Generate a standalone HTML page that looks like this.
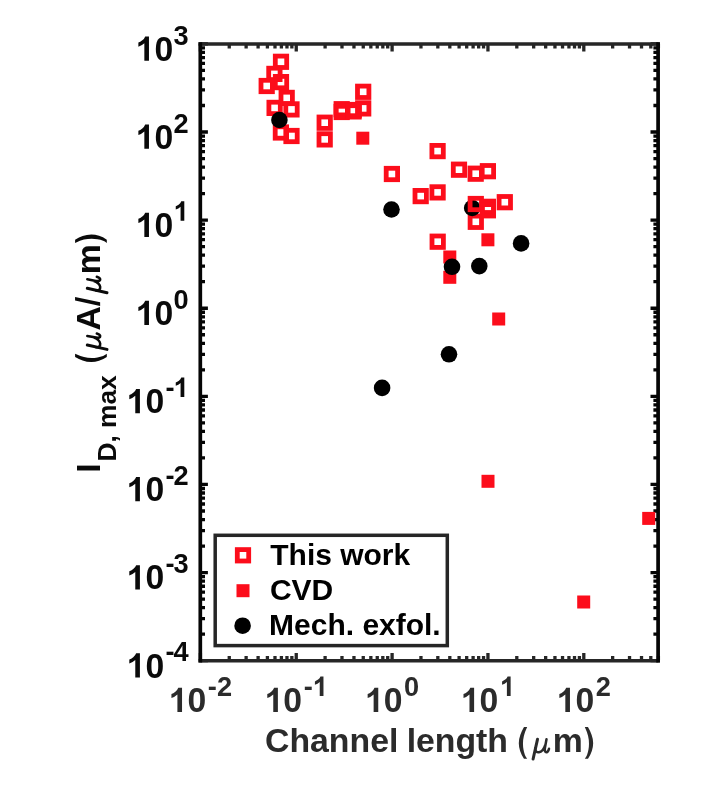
<!DOCTYPE html>
<html><head><meta charset="utf-8"><title>chart</title>
<style>html,body{margin:0;padding:0;background:#fff;}body{width:724px;height:786px;overflow:hidden;font-family:"Liberation Sans",sans-serif;}svg{display:block;filter:blur(0.65px);}</style>
</head><body>
<svg width="724" height="786" viewBox="0 0 724 786">
<rect x="0" y="0" width="724" height="786" fill="#ffffff"/>
<g stroke-width="3.3" fill="none"><path d="M200.40 660.70V653.10M200.40 43.90V51.50" stroke="#262626"/><path d="M229.25 660.70V656.00M229.25 43.90V48.60" stroke="#262626"/><path d="M246.13 660.70V656.00M246.13 43.90V48.60" stroke="#262626"/><path d="M258.11 660.70V656.00M258.11 43.90V48.60" stroke="#262626"/><path d="M267.40 660.70V656.00M267.40 43.90V48.60" stroke="#262626"/><path d="M274.99 660.70V656.00M274.99 43.90V48.60" stroke="#262626"/><path d="M281.40 660.70V656.00M281.40 43.90V48.60" stroke="#262626"/><path d="M286.96 660.70V656.00M286.96 43.90V48.60" stroke="#262626"/><path d="M291.86 660.70V656.00M291.86 43.90V48.60" stroke="#262626"/><path d="M296.25 660.70V653.10M296.25 43.90V51.50" stroke="#262626"/><path d="M325.10 660.70V656.00M325.10 43.90V48.60" stroke="#262626"/><path d="M341.98 660.70V656.00M341.98 43.90V48.60" stroke="#262626"/><path d="M353.96 660.70V656.00M353.96 43.90V48.60" stroke="#262626"/><path d="M363.25 660.70V656.00M363.25 43.90V48.60" stroke="#262626"/><path d="M370.84 660.70V656.00M370.84 43.90V48.60" stroke="#262626"/><path d="M377.25 660.70V656.00M377.25 43.90V48.60" stroke="#262626"/><path d="M382.81 660.70V656.00M382.81 43.90V48.60" stroke="#262626"/><path d="M387.71 660.70V656.00M387.71 43.90V48.60" stroke="#262626"/><path d="M392.10 660.70V653.10M392.10 43.90V51.50" stroke="#262626"/><path d="M420.95 660.70V656.00M420.95 43.90V48.60" stroke="#262626"/><path d="M437.83 660.70V656.00M437.83 43.90V48.60" stroke="#262626"/><path d="M449.81 660.70V656.00M449.81 43.90V48.60" stroke="#262626"/><path d="M459.10 660.70V656.00M459.10 43.90V48.60" stroke="#262626"/><path d="M466.69 660.70V656.00M466.69 43.90V48.60" stroke="#262626"/><path d="M473.10 660.70V656.00M473.10 43.90V48.60" stroke="#262626"/><path d="M478.66 660.70V656.00M478.66 43.90V48.60" stroke="#262626"/><path d="M483.56 660.70V656.00M483.56 43.90V48.60" stroke="#262626"/><path d="M487.95 660.70V653.10M487.95 43.90V51.50" stroke="#262626"/><path d="M516.80 660.70V656.00M516.80 43.90V48.60" stroke="#262626"/><path d="M533.68 660.70V656.00M533.68 43.90V48.60" stroke="#262626"/><path d="M545.66 660.70V656.00M545.66 43.90V48.60" stroke="#262626"/><path d="M554.95 660.70V656.00M554.95 43.90V48.60" stroke="#262626"/><path d="M562.54 660.70V656.00M562.54 43.90V48.60" stroke="#262626"/><path d="M568.95 660.70V656.00M568.95 43.90V48.60" stroke="#262626"/><path d="M574.51 660.70V656.00M574.51 43.90V48.60" stroke="#262626"/><path d="M579.41 660.70V656.00M579.41 43.90V48.60" stroke="#262626"/><path d="M583.80 660.70V653.10M583.80 43.90V51.50" stroke="#262626"/><path d="M612.65 660.70V656.00M612.65 43.90V48.60" stroke="#262626"/><path d="M629.53 660.70V656.00M629.53 43.90V48.60" stroke="#262626"/><path d="M641.51 660.70V656.00M641.51 43.90V48.60" stroke="#262626"/><path d="M650.80 660.70V656.00M650.80 43.90V48.60" stroke="#262626"/><path d="M658.39 660.70V656.00M658.39 43.90V48.60" stroke="#262626"/><path d="M200.30 660.70H207.90M658.10 660.70H650.50" stroke="#050505"/><path d="M200.30 634.17H205.00M658.10 634.17H653.40" stroke="#050505"/><path d="M200.30 618.66H205.00M658.10 618.66H653.40" stroke="#050505"/><path d="M200.30 607.65H205.00M658.10 607.65H653.40" stroke="#050505"/><path d="M200.30 599.11H205.00M658.10 599.11H653.40" stroke="#050505"/><path d="M200.30 592.13H205.00M658.10 592.13H653.40" stroke="#050505"/><path d="M200.30 586.23H205.00M658.10 586.23H653.40" stroke="#050505"/><path d="M200.30 581.12H205.00M658.10 581.12H653.40" stroke="#050505"/><path d="M200.30 576.62H205.00M658.10 576.62H653.40" stroke="#050505"/><path d="M200.30 572.59H207.90M658.10 572.59H650.50" stroke="#050505"/><path d="M200.30 546.06H205.00M658.10 546.06H653.40" stroke="#050505"/><path d="M200.30 530.54H205.00M658.10 530.54H653.40" stroke="#050505"/><path d="M200.30 519.54H205.00M658.10 519.54H653.40" stroke="#050505"/><path d="M200.30 511.00H205.00M658.10 511.00H653.40" stroke="#050505"/><path d="M200.30 504.02H205.00M658.10 504.02H653.40" stroke="#050505"/><path d="M200.30 498.12H205.00M658.10 498.12H653.40" stroke="#050505"/><path d="M200.30 493.01H205.00M658.10 493.01H653.40" stroke="#050505"/><path d="M200.30 488.50H205.00M658.10 488.50H653.40" stroke="#050505"/><path d="M200.30 484.47H207.90M658.10 484.47H650.50" stroke="#050505"/><path d="M200.30 457.95H205.00M658.10 457.95H653.40" stroke="#050505"/><path d="M200.30 442.43H205.00M658.10 442.43H653.40" stroke="#050505"/><path d="M200.30 431.42H205.00M658.10 431.42H653.40" stroke="#050505"/><path d="M200.30 422.88H205.00M658.10 422.88H653.40" stroke="#050505"/><path d="M200.30 415.91H205.00M658.10 415.91H653.40" stroke="#050505"/><path d="M200.30 410.01H205.00M658.10 410.01H653.40" stroke="#050505"/><path d="M200.30 404.90H205.00M658.10 404.90H653.40" stroke="#050505"/><path d="M200.30 400.39H205.00M658.10 400.39H653.40" stroke="#050505"/><path d="M200.30 396.36H207.90M658.10 396.36H650.50" stroke="#050505"/><path d="M200.30 369.83H205.00M658.10 369.83H653.40" stroke="#050505"/><path d="M200.30 354.32H205.00M658.10 354.32H653.40" stroke="#050505"/><path d="M200.30 343.31H205.00M658.10 343.31H653.40" stroke="#050505"/><path d="M200.30 334.77H205.00M658.10 334.77H653.40" stroke="#050505"/><path d="M200.30 327.79H205.00M658.10 327.79H653.40" stroke="#050505"/><path d="M200.30 321.89H205.00M658.10 321.89H653.40" stroke="#050505"/><path d="M200.30 316.78H205.00M658.10 316.78H653.40" stroke="#050505"/><path d="M200.30 312.27H205.00M658.10 312.27H653.40" stroke="#050505"/><path d="M200.30 308.24H207.90M658.10 308.24H650.50" stroke="#050505"/><path d="M200.30 281.72H205.00M658.10 281.72H653.40" stroke="#050505"/><path d="M200.30 266.20H205.00M658.10 266.20H653.40" stroke="#050505"/><path d="M200.30 255.19H205.00M658.10 255.19H653.40" stroke="#050505"/><path d="M200.30 246.65H205.00M658.10 246.65H653.40" stroke="#050505"/><path d="M200.30 239.68H205.00M658.10 239.68H653.40" stroke="#050505"/><path d="M200.30 233.78H205.00M658.10 233.78H653.40" stroke="#050505"/><path d="M200.30 228.67H205.00M658.10 228.67H653.40" stroke="#050505"/><path d="M200.30 224.16H205.00M658.10 224.16H653.40" stroke="#050505"/><path d="M200.30 220.13H207.90M658.10 220.13H650.50" stroke="#050505"/><path d="M200.30 193.60H205.00M658.10 193.60H653.40" stroke="#050505"/><path d="M200.30 178.09H205.00M658.10 178.09H653.40" stroke="#050505"/><path d="M200.30 167.08H205.00M658.10 167.08H653.40" stroke="#050505"/><path d="M200.30 158.54H205.00M658.10 158.54H653.40" stroke="#050505"/><path d="M200.30 151.56H205.00M658.10 151.56H653.40" stroke="#050505"/><path d="M200.30 145.66H205.00M658.10 145.66H653.40" stroke="#050505"/><path d="M200.30 140.55H205.00M658.10 140.55H653.40" stroke="#050505"/><path d="M200.30 136.05H205.00M658.10 136.05H653.40" stroke="#050505"/><path d="M200.30 132.01H207.90M658.10 132.01H650.50" stroke="#050505"/><path d="M200.30 105.49H205.00M658.10 105.49H653.40" stroke="#050505"/><path d="M200.30 89.97H205.00M658.10 89.97H653.40" stroke="#050505"/><path d="M200.30 78.96H205.00M658.10 78.96H653.40" stroke="#050505"/><path d="M200.30 70.43H205.00M658.10 70.43H653.40" stroke="#050505"/><path d="M200.30 63.45H205.00M658.10 63.45H653.40" stroke="#050505"/><path d="M200.30 57.55H205.00M658.10 57.55H653.40" stroke="#050505"/><path d="M200.30 52.44H205.00M658.10 52.44H653.40" stroke="#050505"/><path d="M200.30 47.93H205.00M658.10 47.93H653.40" stroke="#050505"/><path d="M200.30 43.90H207.90M658.10 43.90H650.50" stroke="#050505"/></g>
<g><rect x="356.30" y="131.70" width="13.0" height="13.0" fill="#fc0d1b"/><rect x="443.30" y="250.50" width="13.0" height="13.0" fill="#fc0d1b"/><rect x="443.30" y="270.80" width="13.0" height="13.0" fill="#fc0d1b"/><rect x="481.40" y="233.30" width="13.0" height="13.0" fill="#fc0d1b"/><rect x="492.20" y="312.50" width="13.0" height="13.0" fill="#fc0d1b"/><rect x="481.50" y="474.80" width="13.0" height="13.0" fill="#fc0d1b"/><rect x="577.20" y="595.50" width="13.0" height="13.0" fill="#fc0d1b"/><rect x="642.20" y="511.90" width="13.0" height="13.0" fill="#fc0d1b"/><rect x="470.10" y="216.10" width="11.4" height="11.4" fill="none" stroke="#fc0d1b" stroke-width="4.8"/><circle cx="391.50" cy="209.50" r="8.3" fill="#000"/><circle cx="472.20" cy="208.00" r="8.3" fill="#000"/><circle cx="521.10" cy="243.40" r="8.3" fill="#000"/><circle cx="452.00" cy="266.80" r="8.3" fill="#000"/><circle cx="479.30" cy="266.10" r="8.3" fill="#000"/><circle cx="449.00" cy="354.30" r="8.3" fill="#000"/><circle cx="382.10" cy="387.90" r="8.3" fill="#000"/><rect x="275.30" y="56.10" width="11.4" height="11.4" fill="none" stroke="#fc0d1b" stroke-width="4.8"/><rect x="268.70" y="68.20" width="11.4" height="11.4" fill="none" stroke="#fc0d1b" stroke-width="4.8"/><rect x="275.30" y="76.40" width="11.4" height="11.4" fill="none" stroke="#fc0d1b" stroke-width="4.8"/><rect x="261.00" y="80.30" width="11.4" height="11.4" fill="none" stroke="#fc0d1b" stroke-width="4.8"/><rect x="281.00" y="92.20" width="11.4" height="11.4" fill="none" stroke="#fc0d1b" stroke-width="4.8"/><rect x="268.90" y="102.20" width="11.4" height="11.4" fill="none" stroke="#fc0d1b" stroke-width="4.8"/><rect x="285.80" y="103.70" width="11.4" height="11.4" fill="none" stroke="#fc0d1b" stroke-width="4.8"/><rect x="275.20" y="126.80" width="11.4" height="11.4" fill="none" stroke="#fc0d1b" stroke-width="4.8"/><rect x="285.80" y="130.30" width="11.4" height="11.4" fill="none" stroke="#fc0d1b" stroke-width="4.8"/><rect x="319.00" y="117.00" width="11.4" height="11.4" fill="none" stroke="#fc0d1b" stroke-width="4.8"/><rect x="319.00" y="133.70" width="11.4" height="11.4" fill="none" stroke="#fc0d1b" stroke-width="4.8"/><rect x="336.00" y="103.50" width="11.4" height="11.4" fill="none" stroke="#fc0d1b" stroke-width="4.8"/><rect x="336.00" y="106.30" width="11.4" height="11.4" fill="none" stroke="#fc0d1b" stroke-width="4.8"/><rect x="347.90" y="104.30" width="11.4" height="11.4" fill="none" stroke="#fc0d1b" stroke-width="4.8"/><rect x="347.90" y="105.70" width="11.4" height="11.4" fill="none" stroke="#fc0d1b" stroke-width="4.8"/><rect x="357.50" y="102.70" width="11.4" height="11.4" fill="none" stroke="#fc0d1b" stroke-width="4.8"/><rect x="357.50" y="86.10" width="11.4" height="11.4" fill="none" stroke="#fc0d1b" stroke-width="4.8"/><rect x="386.20" y="168.30" width="11.4" height="11.4" fill="none" stroke="#fc0d1b" stroke-width="4.8"/><rect x="431.90" y="145.40" width="11.4" height="11.4" fill="none" stroke="#fc0d1b" stroke-width="4.8"/><rect x="453.30" y="164.00" width="11.4" height="11.4" fill="none" stroke="#fc0d1b" stroke-width="4.8"/><rect x="470.00" y="168.00" width="11.4" height="11.4" fill="none" stroke="#fc0d1b" stroke-width="4.8"/><rect x="482.20" y="165.50" width="11.4" height="11.4" fill="none" stroke="#fc0d1b" stroke-width="4.8"/><rect x="415.00" y="190.40" width="11.4" height="11.4" fill="none" stroke="#fc0d1b" stroke-width="4.8"/><rect x="431.90" y="186.70" width="11.4" height="11.4" fill="none" stroke="#fc0d1b" stroke-width="4.8"/><rect x="470.10" y="198.30" width="11.4" height="11.4" fill="none" stroke="#fc0d1b" stroke-width="4.8"/><rect x="482.20" y="201.10" width="11.4" height="11.4" fill="none" stroke="#fc0d1b" stroke-width="4.8"/><rect x="482.20" y="204.60" width="11.4" height="11.4" fill="none" stroke="#fc0d1b" stroke-width="4.8"/><rect x="499.10" y="196.50" width="11.4" height="11.4" fill="none" stroke="#fc0d1b" stroke-width="4.8"/><rect x="432.00" y="236.00" width="11.4" height="11.4" fill="none" stroke="#fc0d1b" stroke-width="4.8"/><circle cx="279.40" cy="120.00" r="8.3" fill="#000"/></g>
<path d="M198.55 43.90H659.85M198.55 660.70H659.85" stroke="#262626" stroke-width="3.5" fill="none"/>
<path d="M200.30 42.15V662.45M658.10 42.15V662.45" stroke="#050505" stroke-width="3.7" fill="none"/>
<rect x="215.2" y="535.3" width="232.10" height="110.30" fill="#fff" stroke="#262626" stroke-width="3.5"/>
<rect x="237.30" y="549.60" width="11.4" height="11.4" fill="none" stroke="#fc0d1b" stroke-width="4.8"/>
<rect x="236.50" y="584.20" width="13.0" height="13.0" fill="#fc0d1b"/>
<circle cx="242.60" cy="625.70" r="8.3" fill="#000"/>
<g font-family="Liberation Sans, sans-serif" font-weight="bold" fill="#000">
<text transform="translate(270.26,564.70) scale(1,0.975)" font-size="30.0">This work</text>
<text transform="translate(269.97,600.00) scale(1,0.975)" font-size="30.0">CVD</text>
<text transform="translate(269.09,635.30) scale(1,0.975)" font-size="30.0">Mech. exfol.</text>
</g>
<g font-family="Liberation Sans, sans-serif" font-weight="bold">
<path d="M806 0H525V-1059Q371 -915 162 -846V-1101Q272 -1137 401 -1237.5Q530 -1338 578 -1472H806Z" transform="translate(126.64,677.50) scale(0.01646,0.01645)" fill="#0a0a0a"/><text transform="translate(145.38,677.50) scale(1,1.04)" font-size="33.7" fill="#0a0a0a">0</text>
<text transform="translate(165.54,661.40) scale(1,1.0)" font-size="27.2" fill="#0a0a0a">-</text>
<text transform="translate(173.60,661.40) scale(1,1.04)" font-size="27.2" fill="#0a0a0a">4</text>
<path d="M806 0H525V-1059Q371 -915 162 -846V-1101Q272 -1137 401 -1237.5Q530 -1338 578 -1472H806Z" transform="translate(126.64,589.39) scale(0.01646,0.01645)" fill="#0a0a0a"/><text transform="translate(145.38,589.39) scale(1,1.04)" font-size="33.7" fill="#0a0a0a">0</text>
<text transform="translate(165.54,573.29) scale(1,1.0)" font-size="27.2" fill="#0a0a0a">-</text>
<text transform="translate(173.60,573.29) scale(1,1.04)" font-size="27.2" fill="#0a0a0a">3</text>
<path d="M806 0H525V-1059Q371 -915 162 -846V-1101Q272 -1137 401 -1237.5Q530 -1338 578 -1472H806Z" transform="translate(126.64,501.27) scale(0.01646,0.01645)" fill="#0a0a0a"/><text transform="translate(145.38,501.27) scale(1,1.04)" font-size="33.7" fill="#0a0a0a">0</text>
<text transform="translate(165.54,485.17) scale(1,1.0)" font-size="27.2" fill="#0a0a0a">-</text>
<text transform="translate(173.60,485.17) scale(1,1.04)" font-size="27.2" fill="#0a0a0a">2</text>
<path d="M806 0H525V-1059Q371 -915 162 -846V-1101Q272 -1137 401 -1237.5Q530 -1338 578 -1472H806Z" transform="translate(126.64,413.16) scale(0.01646,0.01645)" fill="#0a0a0a"/><text transform="translate(145.38,413.16) scale(1,1.04)" font-size="33.7" fill="#0a0a0a">0</text>
<text transform="translate(165.54,397.06) scale(1,1.0)" font-size="27.2" fill="#0a0a0a">-</text>
<path d="M806 0H525V-1059Q371 -915 162 -846V-1101Q272 -1137 401 -1237.5Q530 -1338 578 -1472H806Z" transform="translate(173.60,397.06) scale(0.01328,0.01328)" fill="#0a0a0a"/>
<path d="M806 0H525V-1059Q371 -915 162 -846V-1101Q272 -1137 401 -1237.5Q530 -1338 578 -1472H806Z" transform="translate(135.70,325.04) scale(0.01646,0.01645)" fill="#0a0a0a"/><text transform="translate(154.44,325.04) scale(1,1.04)" font-size="33.7" fill="#0a0a0a">0</text>
<text transform="translate(173.60,308.94) scale(1,1.04)" font-size="27.2" fill="#0a0a0a">0</text>
<path d="M806 0H525V-1059Q371 -915 162 -846V-1101Q272 -1137 401 -1237.5Q530 -1338 578 -1472H806Z" transform="translate(135.70,236.93) scale(0.01646,0.01645)" fill="#0a0a0a"/><text transform="translate(154.44,236.93) scale(1,1.04)" font-size="33.7" fill="#0a0a0a">0</text>
<path d="M806 0H525V-1059Q371 -915 162 -846V-1101Q272 -1137 401 -1237.5Q530 -1338 578 -1472H806Z" transform="translate(173.60,220.83) scale(0.01328,0.01328)" fill="#0a0a0a"/>
<path d="M806 0H525V-1059Q371 -915 162 -846V-1101Q272 -1137 401 -1237.5Q530 -1338 578 -1472H806Z" transform="translate(135.70,148.81) scale(0.01646,0.01645)" fill="#0a0a0a"/><text transform="translate(154.44,148.81) scale(1,1.04)" font-size="33.7" fill="#0a0a0a">0</text>
<text transform="translate(173.60,132.71) scale(1,1.04)" font-size="27.2" fill="#0a0a0a">2</text>
<path d="M806 0H525V-1059Q371 -915 162 -846V-1101Q272 -1137 401 -1237.5Q530 -1338 578 -1472H806Z" transform="translate(135.70,60.70) scale(0.01646,0.01645)" fill="#0a0a0a"/><text transform="translate(154.44,60.70) scale(1,1.04)" font-size="33.7" fill="#0a0a0a">0</text>
<text transform="translate(173.60,44.60) scale(1,1.04)" font-size="27.2" fill="#0a0a0a">3</text>
<path d="M806 0H525V-1059Q371 -915 162 -846V-1101Q272 -1137 401 -1237.5Q530 -1338 578 -1472H806Z" transform="translate(168.77,712.00) scale(0.01646,0.01645)" fill="#2b2b2b"/><text transform="translate(187.51,712.00) scale(1,1.04)" font-size="33.7" fill="#2b2b2b">0</text>
<text transform="translate(207.85,696.00) scale(1,1.0)" font-size="27.2" fill="#2b2b2b">-</text>
<text transform="translate(216.91,696.00) scale(1,1.04)" font-size="27.2" fill="#2b2b2b">2</text>
<path d="M806 0H525V-1059Q371 -915 162 -846V-1101Q272 -1137 401 -1237.5Q530 -1338 578 -1472H806Z" transform="translate(264.62,712.00) scale(0.01646,0.01645)" fill="#2b2b2b"/><text transform="translate(283.36,712.00) scale(1,1.04)" font-size="33.7" fill="#2b2b2b">0</text>
<text transform="translate(303.70,696.00) scale(1,1.0)" font-size="27.2" fill="#2b2b2b">-</text>
<path d="M806 0H525V-1059Q371 -915 162 -846V-1101Q272 -1137 401 -1237.5Q530 -1338 578 -1472H806Z" transform="translate(312.76,696.00) scale(0.01328,0.01328)" fill="#2b2b2b"/>
<path d="M806 0H525V-1059Q371 -915 162 -846V-1101Q272 -1137 401 -1237.5Q530 -1338 578 -1472H806Z" transform="translate(364.99,712.00) scale(0.01646,0.01645)" fill="#2b2b2b"/><text transform="translate(383.74,712.00) scale(1,1.04)" font-size="33.7" fill="#2b2b2b">0</text>
<text transform="translate(404.08,696.00) scale(1,1.04)" font-size="27.2" fill="#2b2b2b">0</text>
<path d="M806 0H525V-1059Q371 -915 162 -846V-1101Q272 -1137 401 -1237.5Q530 -1338 578 -1472H806Z" transform="translate(460.84,712.00) scale(0.01646,0.01645)" fill="#2b2b2b"/><text transform="translate(479.59,712.00) scale(1,1.04)" font-size="33.7" fill="#2b2b2b">0</text>
<path d="M806 0H525V-1059Q371 -915 162 -846V-1101Q272 -1137 401 -1237.5Q530 -1338 578 -1472H806Z" transform="translate(499.93,696.00) scale(0.01328,0.01328)" fill="#2b2b2b"/>
<path d="M806 0H525V-1059Q371 -915 162 -846V-1101Q272 -1137 401 -1237.5Q530 -1338 578 -1472H806Z" transform="translate(556.69,712.00) scale(0.01646,0.01645)" fill="#2b2b2b"/><text transform="translate(575.44,712.00) scale(1,1.04)" font-size="33.7" fill="#2b2b2b">0</text>
<text transform="translate(595.78,696.00) scale(1,1.04)" font-size="27.2" fill="#2b2b2b">2</text>
</g>
<g font-family="Liberation Sans, sans-serif" font-weight="bold" fill="#2b2b2b">
<text transform="translate(265.01,751.70) scale(1,1.0)" font-size="33.8">Channel</text>
<text transform="translate(406.64,751.70) scale(1,1.0)" font-size="33.8">length</text>
<path d="M608 431H414Q261 200 181 -40Q101 -280 101 -505Q101 -784 196.5 -1033Q279 -1249 416 -1491H608Q463 -1175 408.5 -953.5Q354 -732 354 -484Q354 -313 385.5 -133.5Q417 46 473 206Q510 311 608 431Z" transform="translate(517.13,751.70) scale(0.01650)" fill="#2b2b2b"/>
<text transform="translate(552.77,751.70) scale(1,1.0)" font-size="33.8">m</text>
<path d="M608 431H414Q261 200 181 -40Q101 -280 101 -505Q101 -784 196.5 -1033Q279 -1249 416 -1491H608Q463 -1175 408.5 -953.5Q354 -732 354 -484Q354 -313 385.5 -133.5Q417 46 473 206Q510 311 608 431Z" transform="translate(594.83,751.70) scale(-0.01650,0.01650)" fill="#2b2b2b"/>
</g>
<g transform="translate(530.60,752.00) scale(1.0)" fill="none" stroke="#2b2b2b" stroke-linecap="round" stroke-linejoin="round"><path d="M6.9 -12.7L2.5 7.0" stroke-width="3.0"/><path d="M4.6 -3.8C4.2 -0.9 6.2 0.4 8.3 0.2C11.1 -0.2 13.3 -2.8 14.5 -6.6M15.9 -12.7L14.3 -4.0C13.8 -1.2 14.6 0.3 15.9 0.2C17.2 0.0 17.9 -1.4 18.4 -3.2" stroke-width="2.5"/></g>
<g transform="translate(99.7,0) rotate(-90)">
<g font-family="Liberation Sans, sans-serif" font-weight="bold" fill="#0a0a0a">
<text transform="translate(-472.86,0.00) scale(1,1.0)" font-size="33.8">I</text>
<text transform="translate(-461.56,16.60) scale(1,1.0)" font-size="26.3">D, max</text>
<path d="M608 431H414Q261 200 181 -40Q101 -280 101 -505Q101 -784 196.5 -1033Q279 -1249 416 -1491H608Q463 -1175 408.5 -953.5Q354 -732 354 -484Q354 -313 385.5 -133.5Q417 46 473 206Q510 311 608 431Z" transform="translate(-363.77,0.00) scale(0.01650)" fill="#0a0a0a"/>
<text transform="translate(-330.54,0.00) scale(1,1.0)" font-size="33.8">A</text>
<path d="M-305.90 0.41L-300.45 -24.61H-296.91L-302.35 0.41Z" fill="#0a0a0a"/>
<text transform="translate(-274.33,0.00) scale(1,1.0)" font-size="33.8">m</text>
<path d="M608 431H414Q261 200 181 -40Q101 -280 101 -505Q101 -784 196.5 -1033Q279 -1249 416 -1491H608Q463 -1175 408.5 -953.5Q354 -732 354 -484Q354 -313 385.5 -133.5Q417 46 473 206Q510 311 608 431Z" transform="translate(-232.87,0.00) scale(-0.01650,0.01650)" fill="#0a0a0a"/>
</g>
<g transform="translate(-351.90,0.30) scale(1.0)" fill="none" stroke="#0a0a0a" stroke-linecap="round" stroke-linejoin="round"><path d="M6.9 -12.7L2.5 7.0" stroke-width="3.0"/><path d="M4.6 -3.8C4.2 -0.9 6.2 0.4 8.3 0.2C11.1 -0.2 13.3 -2.8 14.5 -6.6M15.9 -12.7L14.3 -4.0C13.8 -1.2 14.6 0.3 15.9 0.2C17.2 0.0 17.9 -1.4 18.4 -3.2" stroke-width="2.5"/></g>
<g transform="translate(-295.20,0.30) scale(1.0)" fill="none" stroke="#0a0a0a" stroke-linecap="round" stroke-linejoin="round"><path d="M6.9 -12.7L2.5 7.0" stroke-width="3.0"/><path d="M4.6 -3.8C4.2 -0.9 6.2 0.4 8.3 0.2C11.1 -0.2 13.3 -2.8 14.5 -6.6M15.9 -12.7L14.3 -4.0C13.8 -1.2 14.6 0.3 15.9 0.2C17.2 0.0 17.9 -1.4 18.4 -3.2" stroke-width="2.5"/></g>
</g>
</svg>
</body></html>
